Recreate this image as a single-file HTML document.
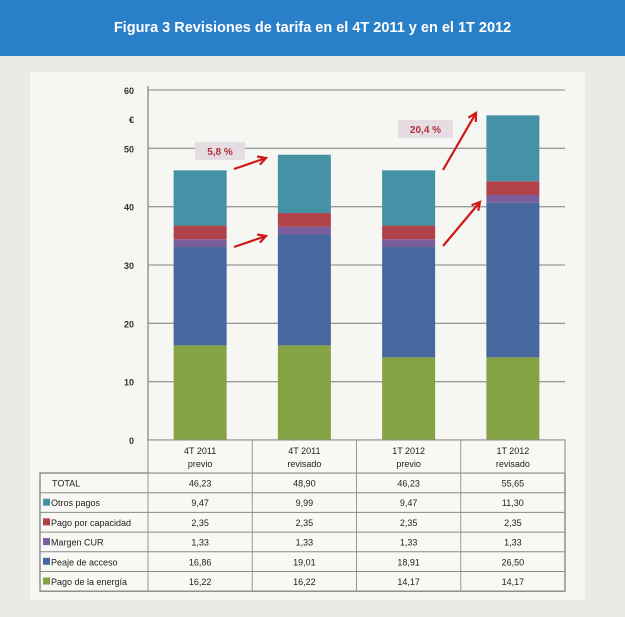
<!DOCTYPE html>
<html><head><meta charset="utf-8"><style>
html,body{margin:0;padding:0;background:#e9ece5;}
body{width:625px;height:617px;overflow:hidden;font-family:"Liberation Sans",sans-serif;}
#hdr{position:absolute;left:0;top:0;width:625px;height:56px;background:#2a7fc9;color:#fff;font-weight:bold;font-size:14.5px;text-align:center;line-height:56px;}
svg{position:absolute;left:0;top:0;}
</style></head><body>
<div id="hdr">Figura 3 Revisiones de tarifa en el 4T 2011 y en el 1T 2012</div>
<svg id="c" width="625" height="617"></svg>
<script>
const categories=[["4T 2011","previo"],["4T 2011","revisado"],["1T 2012","previo"],["1T 2012","revisado"]];
const seriesNames=["Pago de la energía","Peaje de acceso","Margen CUR","Pago por capacidad","Otros pagos"];
const energia=[16.22,16.22,14.17,14.17];
const peaje=[16.86,19.01,18.91,26.50];
const margen=[1.33,1.33,1.33,1.33];
const capacidad=[2.35,2.35,2.35,2.35];
const otros=[9.47,9.99,9.47,11.30];
const totals=["46,23","48,90","46,23","55,65"];
const yTicks=[0,10,20,30,40,50,60];
const colors=["#86a344","#46689e","#7c5e9c","#b0434a","#4591a6"];
const series=[energia,peaje,margen,capacidad,otros];
const NS="http://www.w3.org/2000/svg";
const svg=document.getElementById('c');
function mk(t,a,p){const e=document.createElementNS(NS,t);for(const k in a)e.setAttribute(k,a[k]);(p||svg).appendChild(e);return e;}
const X0=148,X1=565,Y0=440,Y1=90,YMAX=60;
const y=v=>Y0-(v/YMAX)*(Y0-Y1);
const colW=(X1-X0)/categories.length;
const xc=i=>X0+colW*(i+0.5);
const BW=53;
// panel
let r=mk('rect',{x:30,y:72,width:555,height:528,fill:"#f6f6f2"});


// gridlines and y labels
yTicks.forEach(t=>{
 const g=mk('line',{x1:X0,x2:X1,y1:y(t),y2:y(t),stroke:"#9a9a9a","stroke-width":1.3});
 
 
 const tx=mk('text',{x:134,y:y(t)+4,"text-anchor":"end","font-size":9,"font-weight":"bold",fill:"#333"});
 tx.textContent=t;
 
 
});
const eu=mk('text',{x:134,y:y(55)+4,"text-anchor":"end","font-size":9,"font-weight":"bold",fill:"#333"});eu.textContent="€";


mk('line',{x1:X0,x2:X0,y1:Y1-4,y2:Y0,stroke:"#888","stroke-width":1.3});
// bars
categories.forEach((c,i)=>{
 let acc=0;
 series.forEach((s,k)=>{
  const b=mk('rect',{x:xc(i)-BW/2,y:y(acc+s[i]),width:BW,height:y(acc)-y(acc+s[i]),fill:colors[k]});
  
  
  acc+=s[i];
 });
});
// arrows
function arrow(x1,y1,x2,y2){
 const l=mk('line',{x1,y1,x2,y2,stroke:"#d01818","stroke-width":2.2});
 
 
 const a=Math.atan2(y2-y1,x2-x1),L=9;
 mk('polyline',{points:`${x2-L*Math.cos(a-0.5)},${y2-L*Math.sin(a-0.5)} ${x2},${y2} ${x2-L*Math.cos(a+0.5)},${y2-L*Math.sin(a+0.5)}`,fill:"none",stroke:"#d01818","stroke-width":2.2});
}
arrow(234,169,266,158);arrow(234,247,266,236);arrow(443,170,476,113);arrow(443,246,480,202);
function badge(x,yy,w,t){
 const g=mk('rect',{x,y:yy,width:w,height:18,fill:"#e6dde3"});
 
 
 const tx=mk('text',{x:x+w/2,y:yy+13,"text-anchor":"middle","font-size":10,"font-weight":"bold",fill:"#b03040"});tx.textContent=t;
}
badge(195,142,50,"5,8 %");badge(398,120,55,"20,4 %");
// table
const TL=40,rowTop=473,rowH=19.7;
const rows=[["TOTAL",null,totals]];
const labels=["Otros pagos","Pago por capacidad","Margen CUR","Peaje de acceso","Pago de la energía"];
const rs=[otros,capacidad,margen,peaje,energia],rc=[colors[4],colors[3],colors[2],colors[1],colors[0]];
labels.forEach((l,k)=>rows.push([l,rc[k],rs[k].map(v=>v.toFixed(2).replace('.',','))]));
const tb=mk('rect',{x:TL,y:rowTop,width:X1-TL,height:rowH*rows.length,fill:"#f8f8f5",stroke:"#777","stroke-width":1.2});


mk('rect',{x:X0,y:Y0,width:X1-X0,height:rowTop-Y0,fill:"#f8f8f5",stroke:"#888","stroke-width":1});
categories.forEach((c,i)=>{
 if(i>0)mk('line',{x1:X0+colW*i,x2:X0+colW*i,y1:Y0,y2:rowTop+rowH*rows.length,stroke:"#999"});
 c.forEach((t,j)=>{const tx=mk('text',{x:xc(i),y:Y0+14+j*13,"text-anchor":"middle","font-size":9,fill:"#222"});tx.textContent=t;
  
  });
});
mk('line',{x1:X0,x2:X0,y1:rowTop,y2:rowTop+rowH*rows.length,stroke:"#999"});
rows.forEach((rw,k)=>{
 const ry=rowTop+rowH*k;
 if(k>0)mk('line',{x1:TL,x2:X1,y1:ry,y2:ry,stroke:"#888"});
 if(rw[1])mk('rect',{x:TL+3,y:ry+6,width:7,height:7,fill:rw[1]});
 const lt=mk('text',{x:rw[1]?TL+11:TL+12,y:ry+13.5,"font-size":9,fill:"#222"});lt.textContent=rw[0];
 
 
 rw[2].forEach((v,i)=>{const tx=mk('text',{x:xc(i),y:ry+13.5,"text-anchor":"middle","font-size":9,fill:"#222"});tx.textContent=v;
  
  });
});
</script>
</body></html>
